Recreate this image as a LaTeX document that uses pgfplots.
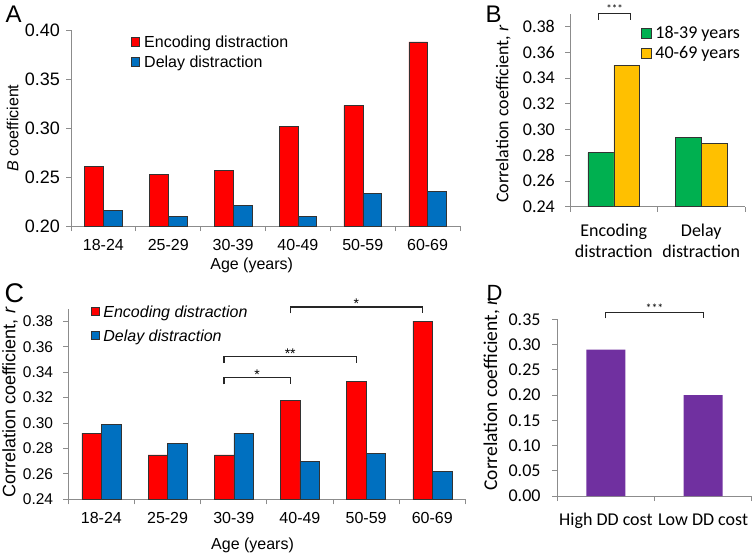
\documentclass[border=0pt]{standalone}
\usepackage{fontspec}
\setmainfont{Liberation Sans}
\newfontfamily\calib{Carlito}
\usepackage{pgfplots}
\pgfplotsset{compat=1.18}

\definecolor{exred}{HTML}{FF0000}
\definecolor{exblue}{HTML}{0070C0}
\definecolor{exgreen}{HTML}{00B050}
\definecolor{exyellow}{HTML}{FFC000}
\definecolor{expurple}{HTML}{7030A0}
\definecolor{axgray}{HTML}{8C8C8C}
\newcommand\fs[1]{\fontsize{#1}{#1}\selectfont}

\tikzset{brk/.style={draw=black!85,line width=1.1pt}}
\pgfplotsset{
  xl/.style={
    scale only axis, anchor=south west, enlargelimits=false,
    axis lines=left, axis line style={-,draw=axgray,line width=0.8pt},
    tick align=outside, major tick length=5pt, tick style={draw=axgray,line width=0.8pt},
    x tick label as interval, ybar, clip mode=individual,
    yticklabel style={anchor=east,inner sep=0pt,/pgf/number format/fixed,/pgf/number format/fixed zerofill,
      /pgf/number format/precision=2,/pgf/number format/assume math mode=true},
    xticklabel style={anchor=base,inner sep=0pt},
    legend cell align=left,
    legend style={draw=none,fill=none,inner sep=0pt,anchor=north west,nodes={inner sep=0pt}},
  },
  sq/.style n args={2}{legend image code/.code={\draw[##1,line width=0.5pt] (0pt,#2) rectangle (#1,#2+#1);}},
}

\begin{document}
\begin{tikzpicture}
\useasboundingbox (0pt,0pt) rectangle (754pt,-554pt);

% ---- A
\begin{axis}[xl, at={(71pt,-226pt)}, width=389pt, height=196pt,
  xmin=-0.5, xmax=5.5, xtick={-0.5,0.5,...,5.5},
  xticklabels={18-24,25-29,30-39,40-49,50-59,60-69},
  ymin=0.2, ymax=0.4, ytick={0.2,0.25,0.3,0.35,0.4},
  yticklabel style={font=\fs{18},xshift=-6pt},
  xticklabel style={font=\fs{16},yshift=-19.7pt},
  xlabel={Age (years)}, xlabel style={at={(axis description cs:0.4645,-0.221)},anchor=base,font=\fs{16}},
  ylabel={\textit{B} coefficient}, ylabel style={at={(axis description cs:-0.150,0.5)},anchor=center,font=\fs{16}},
  bar width=18.8pt,
  legend style={at={(axis description cs:0.1535,0.9694)},font=\fs{16},row sep=6.9pt,column sep=4.3pt}]
\addplot[fill=exred,draw=black!80,line width=0.5pt,bar shift=-9.4pt,sq={8.5pt}{-3.2pt}]
  coordinates {(0,0.261)(1,0.253)(2,0.257)(3,0.302)(4,0.323)(5,0.388)};
\addlegendentry{Encoding distraction}
\addplot[fill=exblue,draw=black!80,line width=0.5pt,bar shift=9.4pt,sq={8.5pt}{-3.2pt}]
  coordinates {(0,0.216)(1,0.210)(2,0.221)(3,0.210)(4,0.233)(5,0.235)};
\addlegendentry{Delay distraction}
\end{axis}

% ---- B
\begin{axis}[xl, at={(570pt,-206.7pt)}, width=175pt, height=192.9pt,
  xmin=-0.5, xmax=1.5, xtick={-0.5,0.5,1.5},
  xticklabels={Encoding\\distraction,Delay\\distraction},
  ymin=0.24, ymax=0.39, ytick={0.24,0.26,0.28,0.30,0.32,0.34,0.36,0.38},
  yticklabel style={font=\calib\fs{18},xshift=-10pt},
  xticklabel style={font=\calib\fontsize{18}{21.3}\selectfont,align=center,yshift=-45.6pt},
  ylabel={Correlation coefficient, \textit{r}}, ylabel style={at={(axis description cs:-0.381,0.48)},anchor=center,font=\calib\fs{18}},
  bar width=25.8pt,
  legend style={at={(axis description cs:0.404,0.938)},font=\calib\fs{18},row sep=6.9pt,column sep=4pt}]
\addplot[fill=exgreen,draw=black!80,line width=0.5pt,bar shift=-12.9pt,sq={10pt}{-5pt}]
  coordinates {(0,0.282)(1,0.294)};
\addlegendentry{18-39 years}
\addplot[fill=exyellow,draw=black!80,line width=0.5pt,bar shift=12.9pt,sq={10pt}{-5pt}]
  coordinates {(0,0.350)(1,0.289)};
\addlegendentry{40-69 years}
\draw[brk,line width=0.9pt] (axis cs:-0.17,0.3852) -- (axis cs:-0.17,0.3904) -- (axis cs:0.19,0.3904) -- (axis cs:0.19,0.3852);
\node[anchor=base,font=\calib\fs{11},yshift=0.5pt] at (axis cs:0.01,0.3904) {***};
\end{axis}

% ---- C
\begin{axis}[xl, at={(68.3pt,-499.3pt)}, width=397.1pt, height=190.8pt,
  xmin=-0.5, xmax=5.5, xtick={-0.5,0.5,...,5.5},
  xticklabels={18-24,25-29,30-39,40-49,50-59,60-69},
  ymin=0.24, ymax=0.39, ytick={0.24,0.26,0.28,0.30,0.32,0.34,0.36,0.38},
  yticklabel style={font=\fs{15.5},xshift=-10pt},
  xticklabel style={font=\fs{16},yshift=-19pt},
  xlabel={Age (years)}, xlabel style={at={(axis description cs:0.464,-0.262)},anchor=base,font=\fs{16}},
  ylabel={Correlation coefficient, \textit{r}}, ylabel style={at={(axis description cs:-0.147,0.507)},anchor=center,font=\fs{18}},
  bar width=19.5pt,
  legend style={at={(axis description cs:0.0564,1.0143)},font=\fs{16}\itshape,row sep=10.9pt,column sep=4pt}]
\addplot[fill=exred,draw=black!80,line width=0.5pt,bar shift=-9.75pt,sq={8pt}{-3.2pt}]
  coordinates {(0,0.292)(1,0.275)(2,0.275)(3,0.318)(4,0.333)(5,0.380)};
\addlegendentry{Encoding distraction}
\addplot[fill=exblue,draw=black!80,line width=0.5pt,bar shift=9.75pt,sq={8pt}{-3.2pt}]
  coordinates {(0,0.299)(1,0.284)(2,0.292)(3,0.270)(4,0.276)(5,0.262)};
\addlegendentry{Delay distraction}
\draw[brk] (axis cs:1.853,0.3304) -- (axis cs:1.853,0.3356) -- (axis cs:2.853,0.3356) -- (axis cs:2.853,0.3304);
\node[anchor=base,font=\fs{14},yshift=-2pt] at (axis cs:2.353,0.3356) {*};
\draw[brk] (axis cs:1.853,0.3470) -- (axis cs:1.853,0.3521) -- (axis cs:3.853,0.3521) -- (axis cs:3.853,0.3470);
\node[anchor=base,font=\fs{14},yshift=-2pt] at (axis cs:2.853,0.3521) {**};
\draw[brk] (axis cs:2.853,0.3862) -- (axis cs:2.853,0.3912) -- (axis cs:4.853,0.3912) -- (axis cs:4.853,0.3862);
\node[anchor=base,font=\fs{14},yshift=-2pt] at (axis cs:3.853,0.3912) {*};
\end{axis}

% ---- D
\begin{axis}[xl, at={(557.3pt,-496pt)}, width=194.4pt, height=176.7pt,
  xmin=-0.5, xmax=1.5, xtick={-0.5,0.5,1.5},
  xticklabels={High DD cost,Low DD cost},
  ymin=0, ymax=0.35, ytick={0,0.05,0.10,0.15,0.20,0.25,0.30,0.35},
  yticklabel style={font=\calib\fs{18},xshift=-11.6pt},
  xticklabel style={font=\calib\fs{18},yshift=-24pt},
  ylabel={Correlation coefficient, \textit{r}}, ylabel style={at={(axis description cs:-0.3375,0.574)},anchor=center,font=\calib\fs{19.5}},
  bar width=39pt]
\addplot[fill=expurple,draw=none,bar shift=0pt] coordinates {(0,0.29)(1,0.20)};
\draw[brk,line width=0.9pt] (axis cs:0,0.352) -- (axis cs:0,0.3638) -- (axis cs:1,0.3638) -- (axis cs:1,0.352);
\node[anchor=base,font=\calib\fs{12},yshift=-0.3pt] at (axis cs:0.5,0.3638) {***};
\end{axis}

\node[anchor=base west,font=\fs{24}] at (2pt,-22pt) {A};
\node[anchor=base west,font=\fs{24}] at (482pt,-22pt) {B};
\node[anchor=base west,font=\fs{27}] at (1pt,-302pt) {C};
\node[anchor=base west,font=\fs{22}] at (483pt,-300pt) {D};
\end{tikzpicture}
\end{document}
